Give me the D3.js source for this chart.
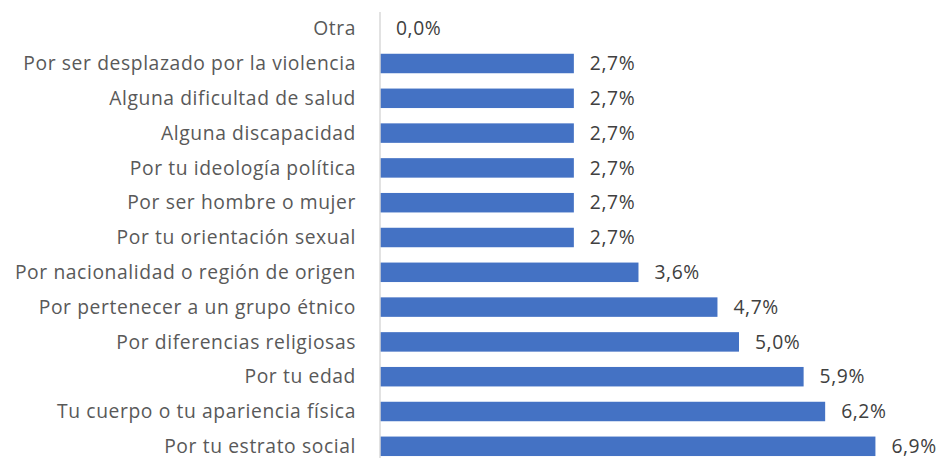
<!DOCTYPE html>
<html><head><meta charset="utf-8">
<script src="https://cdn.jsdelivr.net/npm/d3@7"></script>
<style>body{margin:0;background:#fff;} svg{display:block;}</style>
</head><body><svg id="c" width="941" height="458"></svg>
<script>
const categories = ["Otra","Por ser desplazado por la violencia","Alguna dificultad de salud","Alguna discapacidad","Por tu ideología política","Por ser hombre o mujer","Por tu orientación sexual","Por nacionalidad o región de origen","Por pertenecer a un grupo étnico","Por diferencias religiosas","Por tu edad","Tu cuerpo o tu apariencia física","Por tu estrato social"];
const values = [0.0,2.7,2.7,2.7,2.7,2.7,2.7,3.6,4.7,5.0,5.9,6.2,6.9];

const svg = d3.select("#c");
const x0 = 380;
const x = d3.scaleLinear().domain([0, 1]).range([x0, x0 + 71.8]);
const y = d3.scaleBand().domain(categories).range([11.3, 463.7]).paddingInner(0.44).paddingOuter(0.22);
const font = "'Open Sans', sans-serif";
const fmt = v => v.toFixed(1).replace(".", ",") + "%";

svg.selectAll("rect.bar").data(values).join("rect").attr("class","bar")
  .attr("x", x(0)).attr("y", (d,i) => y(categories[i]))
  .attr("width", d => x(d) - x(0)).attr("height", y.bandwidth())
  .attr("fill", "#4472c4");

svg.append("line").attr("x1", x0).attr("x2", x0).attr("y1", 12).attr("y2", 458)
  .attr("stroke", "#d9d9d9").attr("stroke-width", 1.5);

svg.selectAll("text.cat").data(categories).join("text").attr("class","cat")
  .attr("x", x0 - 24).attr("y", d => y(d) + y.bandwidth()/2).attr("dy","0.35em")
  .attr("text-anchor","end").attr("font-family", font).attr("font-size", 19.3)
  .attr("letter-spacing", 0.6)
  .attr("fill", "#595959").text(d => d);

svg.selectAll("text.val").data(values).join("text").attr("class","val")
  .attr("x", d => x(d) + 16).attr("y", (d,i) => y(categories[i]) + y.bandwidth()/2).attr("dy","0.35em")
  .attr("font-family", font).attr("font-size", 19.3).attr("letter-spacing", 0.6)
  .attr("fill", "#404040").text(d => fmt(d));
</script></body></html>
